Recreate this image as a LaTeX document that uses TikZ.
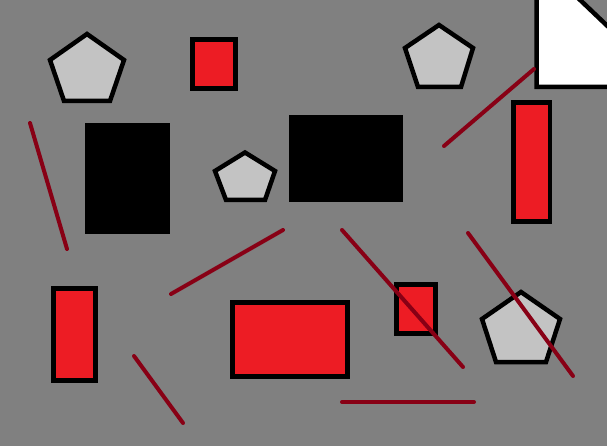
\documentclass[tikz,border=0pt]{standalone}
\definecolor{bg}{RGB}{128,128,128}
\definecolor{pgray}{RGB}{195,195,195}
\definecolor{pred}{RGB}{237,28,36}
\definecolor{dred}{RGB}{136,0,21}
\begin{document}
\begin{tikzpicture}[x=1pt,y=-1pt,
  redbox/.style={draw=black,fill=pred,line width=4.7pt},
  pent/.style={draw=black,fill=pgray,line width=4.5pt,line join=miter},
  blk/.style={fill=black},
  stick/.style={draw=dred,line width=4pt,line cap=round}]
\fill[bg] (0,0) rectangle (607,446);
\useasboundingbox (0,0) rectangle (607,446);
\begin{scope}
\clip (0,0) rectangle (607,446);
% white cut-corner shape
\draw[draw=black,fill=white,line width=4.5pt,line join=miter] (536.5,-10) -- (536.5,87) -- (620,87) -- (620,38) -- (577,-3) -- (577,-10) -- cycle;
% black rectangles
\fill[blk] (85,123) rectangle (170,234);
\fill[blk] (289,115) rectangle (403,202);
% red boxes
\draw[redbox] (192.5,39.5) rectangle (235.5,88.5);
\draw[redbox] (513.5,102.5) rectangle (550,221.5);
\draw[redbox] (53.5,288.5) rectangle (95.5,380.5);
\draw[redbox] (232.5,302.5) rectangle (347.5,376.5);
\draw[redbox] (396.5,284.5) rectangle (435.5,333.5);
% pentagons
\draw[pent] (87,34) -- (124,60) -- (110,101) -- (64,101) -- (50,60) -- cycle;
\draw[pent] (439,25) -- (473,48) -- (461,87) -- (418,87) -- (405,48) -- cycle;
\draw[pent] (245,152.5) -- (275,171) -- (265,200) -- (226,200) -- (215,171) -- cycle;
\draw[pent] (521,292) -- (560,319) -- (546,362) -- (496,362) -- (482,319) -- cycle;
% sticks
\coordinate (a1) at (30,123); \coordinate (a2) at (67,249);
\coordinate (b1) at (171,294); \coordinate (b2) at (283,230);
\coordinate (c1) at (134,356); \coordinate (c2) at (183,423);
\coordinate (d1) at (342,230); \coordinate (d2) at (463,367);
\coordinate (e1) at (468,233); \coordinate (e2) at (573,376);
\coordinate (f1) at (342,402); \coordinate (f2) at (474,402);
\coordinate (g1) at (444,146); \coordinate (g2) at (534,69);
\draw[stick] (a1) -- (a2);
\draw[stick] (b1) -- (b2);
\draw[stick] (c1) -- (c2);
\draw[stick] (d1) -- (d2);
\draw[stick] (e1) -- (e2);
\draw[stick] (f1) -- (f2);
\draw[stick] (g1) -- (g2);
\end{scope}
\end{tikzpicture}
\end{document}
